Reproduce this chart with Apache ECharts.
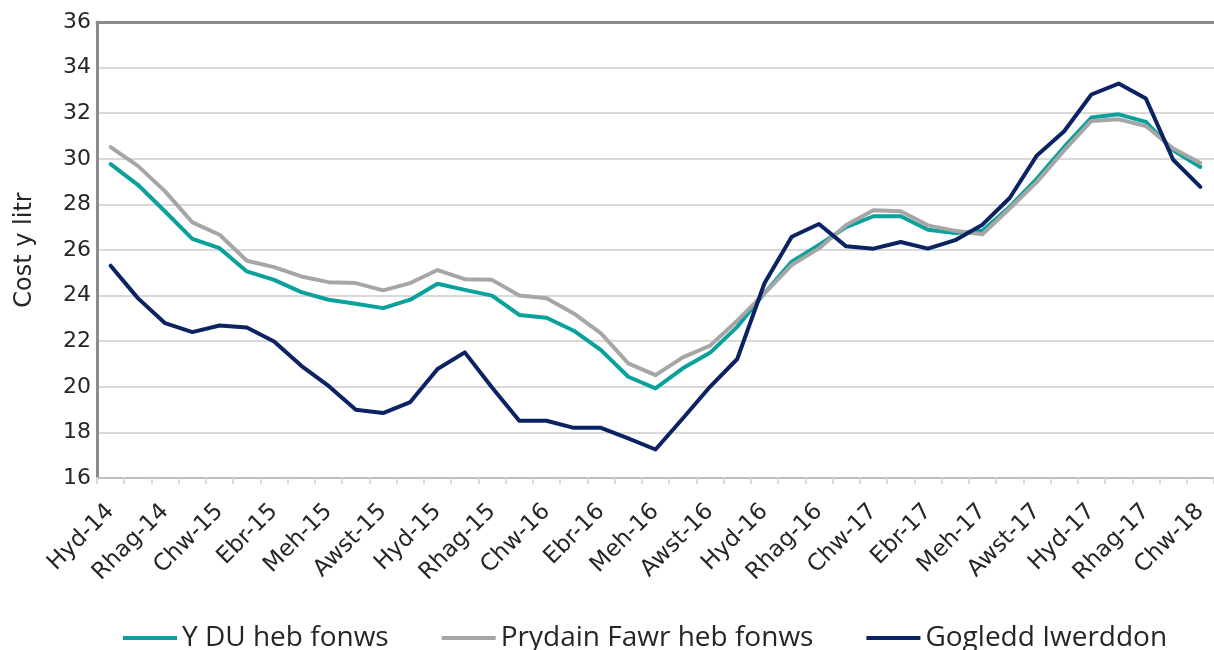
<!DOCTYPE html>
<html>
<head>
<meta charset="utf-8">
<script src="https://cdn.jsdelivr.net/npm/echarts@6/dist/echarts.min.js"></script>
<style>
  html, body { margin: 0; padding: 0; background: #fff; }
  #chart { width: 1214px; height: 650px; }
</style>
</head>
<body>
<div id="chart"></div>
<script>
// monthly, Hyd-14 .. Chw-18
const months = [
  'Hyd-14', 'Tach-14', 'Rhag-14', 'Ion-15', 'Chw-15', 'Maw-15', 'Ebr-15', 'Mai-15', 'Meh-15', 'Gorff-15', 'Awst-15', 'Medi-15',
  'Hyd-15', 'Tach-15', 'Rhag-15', 'Ion-16', 'Chw-16', 'Maw-16', 'Ebr-16', 'Mai-16', 'Meh-16', 'Gorff-16', 'Awst-16', 'Medi-16',
  'Hyd-16', 'Tach-16', 'Rhag-16', 'Ion-17', 'Chw-17', 'Maw-17', 'Ebr-17', 'Mai-17', 'Meh-17', 'Gorff-17', 'Awst-17', 'Medi-17',
  'Hyd-17', 'Tach-17', 'Rhag-17', 'Ion-18', 'Chw-18'
];

const seriesNames = ['Y DU heb fonws', 'Prydain Fawr heb fonws', 'Gogledd Iwerddon'];

const ukNoBonus = [
  29.77, 28.86, 27.69, 26.49, 26.08, 25.06, 24.69, 24.15, 23.82, 23.64, 23.45, 23.82,
  24.52, 24.25, 24.0, 23.15, 23.03, 22.46, 21.61, 20.44, 19.93, 20.81, 21.49, 22.63,
  24.10, 25.49, 26.22, 27.0, 27.48, 27.48, 26.89, 26.75, 26.84, 27.89, 29.13, 30.52,
  31.81, 31.95, 31.62, 30.37, 29.64
];

const gbNoBonus = [
  30.51, 29.69, 28.57, 27.21, 26.67, 25.53, 25.25, 24.84, 24.59, 24.55, 24.23, 24.55,
  25.12, 24.72, 24.69, 24.0, 23.88, 23.22, 22.34, 21.03, 20.51, 21.29, 21.80, 22.90,
  24.10, 25.34, 26.07, 27.1, 27.74, 27.70, 27.08, 26.84, 26.69, 27.82, 28.99, 30.37,
  31.66, 31.73, 31.44, 30.45, 29.82
];

const niPrice = [
  25.31, 23.89, 22.79, 22.40, 22.69, 22.60, 21.99, 20.92, 20.04, 18.99, 18.85, 19.33,
  20.78, 21.51, 19.97, 18.51, 18.51, 18.20, 18.20, 17.74, 17.25, 18.61, 20.0, 21.22,
  24.54, 26.58, 27.14, 26.16, 26.06, 26.35, 26.06, 26.43, 27.11, 28.28, 30.15, 31.21,
  32.82, 33.30, 32.64, 29.96, 28.77
];

const colors = ['#0aa09b', '#a6a6a6', '#0b2263'];

const chart = echarts.init(document.getElementById('chart'));

function lineSeries(name, data, color) {
  return {
    name: name,
    type: 'line',
    data: data,
    showSymbol: false,
    symbol: 'none',
    lineStyle: { color: color, width: 4, cap: 'round', join: 'round' },
    itemStyle: { color: color }
  };
}

const option = {
  animation: false,
  color: colors,
  grid: {
    left: 97,
    top: 22,
    width: 1120,
    height: 456
  },
  legend: {
    left: 118,
    top: 619,
    itemWidth: 54,
    itemHeight: 4,
    itemGap: 53,
    icon: 'rect',
    textStyle: {
      fontFamily: 'Open Sans',
      fontSize: 28,
      color: '#262626'
    },
    data: seriesNames
  },
  xAxis: [
    {
      type: 'category',
      data: months,
      boundaryGap: true,
      axisLine: { lineStyle: { color: '#bfbfbf', width: 2 } },
      axisTick: { show: true, interval: 0, length: 6, lineStyle: { color: '#d9d9d9', width: 2 } },
      axisLabel: {
        interval: 1,
        rotate: 45,
        margin: 30,
        fontFamily: 'DejaVu Sans',
        fontSize: 23,
        color: '#262626'
      },
      splitLine: { show: false }
    },
    {
      // top border of the plot area
      type: 'category',
      data: months,
      position: 'top',
      axisLine: { lineStyle: { color: '#8c8c8c', width: 3 } },
      axisTick: { show: false },
      axisLabel: { show: false }
    }
  ],
  yAxis: {
    type: 'value',
    min: 16,
    max: 36,
    interval: 2,
    name: 'Cost y litr',
    nameLocation: 'middle',
    nameGap: 60,
    nameTextStyle: {
      fontFamily: 'DejaVu Sans',
      fontSize: 24,
      color: '#262626'
    },
    axisLine: { show: true, lineStyle: { color: '#8c8c8c', width: 3 } },
    axisTick: { show: false },
    axisLabel: {
      margin: 6,
      fontFamily: 'DejaVu Sans',
      fontSize: 22,
      color: '#262626'
    },
    splitLine: { lineStyle: { color: '#d9d9d9', width: 2 } }
  },
  series: [
    lineSeries(seriesNames[0], ukNoBonus, colors[0]),
    lineSeries(seriesNames[1], gbNoBonus, colors[1]),
    lineSeries(seriesNames[2], niPrice, colors[2])
  ]
};

chart.setOption(option);
window.addEventListener('resize', function () {
  chart.resize();
});
</script>
</body>
</html>
